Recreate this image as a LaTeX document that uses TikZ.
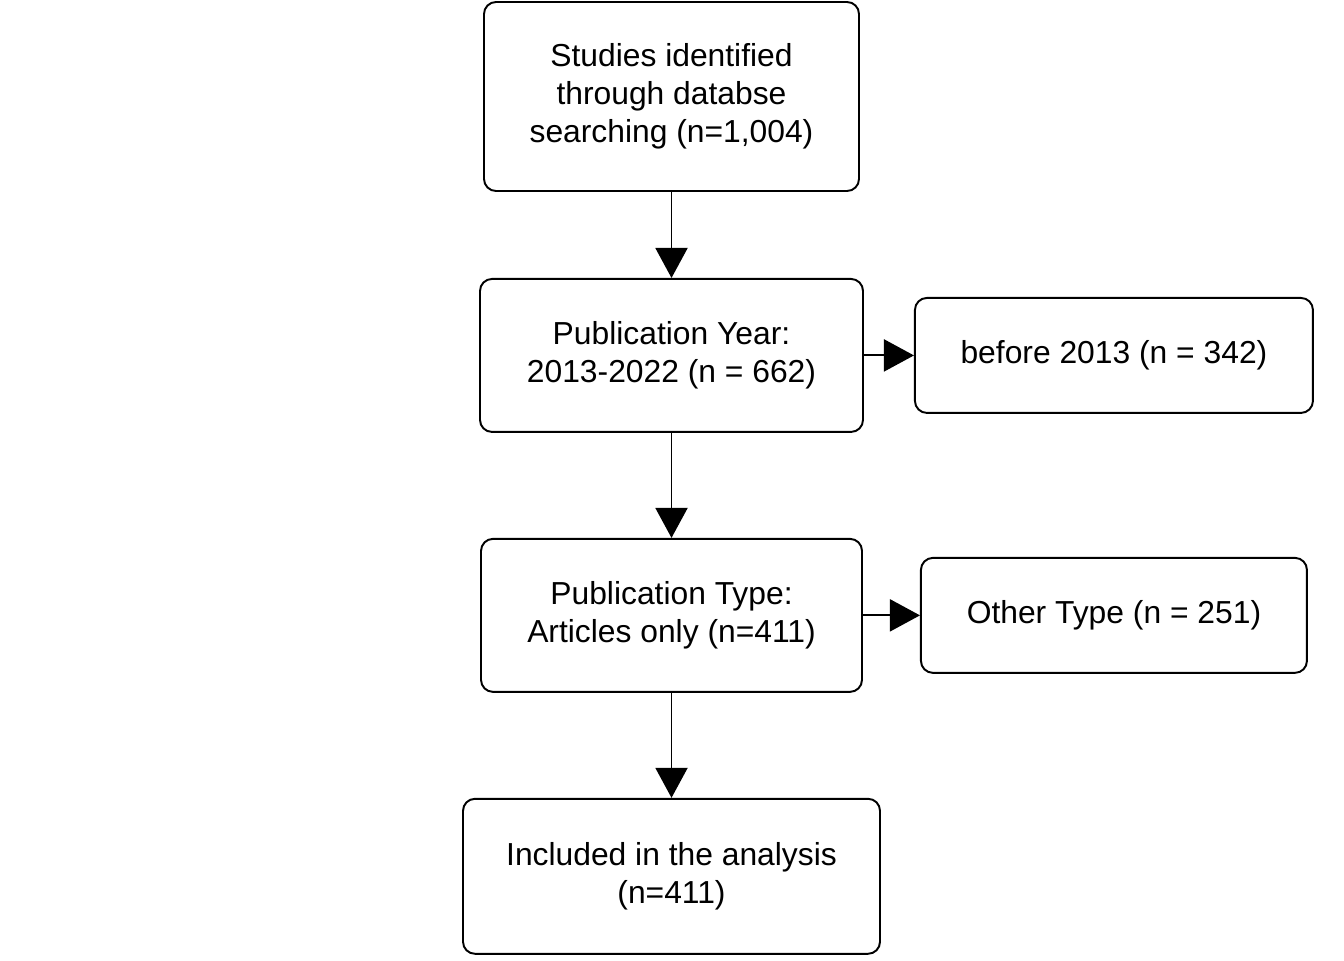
\documentclass[tikz,border=0pt]{standalone}
\usepackage{fontspec}
\setmainfont{Liberation Sans}
\usetikzlibrary{
	arrows.meta,
	positioning
}

\begin{document}
\begin{tikzpicture}[
			font=\fontsize{18.1}{21.6}\selectfont,
			box/.style={draw, line width=1.1pt, rounded corners=0.24cm, align=center, inner sep=0pt},
			>={Triangle[length=0.6cm, width=0.64cm]},
			fl/.style={->, line width=1.1pt}
		]
		\useasboundingbox (0,0) rectangle (26.88,-19.2);

		\node[box, minimum width=7.5cm, minimum height=3.78cm] (ident) at (13.43,-1.93) {Studies identified\\through databse\\searching (n=1,004)};
		\node[box, minimum width=7.66cm, minimum height=3.06cm, below=1.72cm of ident] (year) {Publication Year:\\2013-2022 (n = 662)};
		\node[box, minimum width=7.62cm, minimum height=3.06cm, below=2.1cm of year] (type) {Publication Type:\\Articles only (n=411)};
		\node[box, minimum width=8.34cm, minimum height=3.1cm, below=2.1cm of type] (incl) {Included in the analysis\\(n=411)};

		\node[box, minimum width=7.96cm, minimum height=2.3cm, right=1.0cm of year] (before) {before 2013 (n = 342)};
		\node[box, minimum width=7.72cm, minimum height=2.3cm, right=1.14cm of type] (other) {Other Type (n = 251)};

		\draw[fl] (ident) -- (year);
		\draw[fl] (year) -- (type);
		\draw[fl] (type) -- (incl);
		\draw[fl] (year) -- (before);
		\draw[fl] (type) -- (other);
	\end{tikzpicture}
\end{document}
